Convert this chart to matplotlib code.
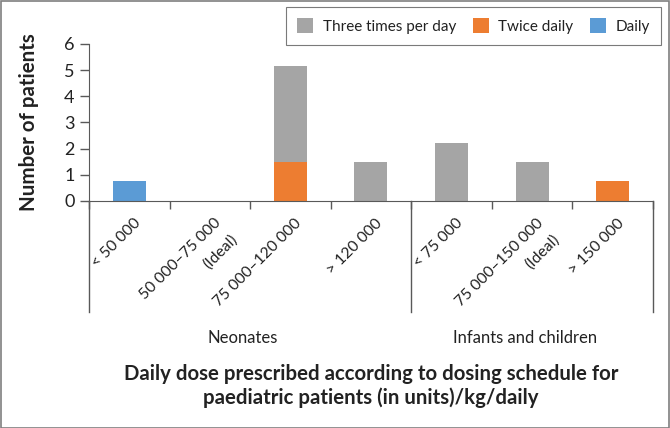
import matplotlib
matplotlib.use("Agg")
import matplotlib.pyplot as plt
from matplotlib.lines import Line2D
from matplotlib.patches import Rectangle
import matplotlib.transforms as mtransforms
import numpy as np

plt.rcParams['font.family'] = ['Lato', 'DejaVu Sans']

categories = ["< 50 000", "50 000\u201375 000\n(Ideal)", "75 000\u2013120 000", "> 120 000",
              "< 75 000", "75 000\u2013150 000\n(Ideal)", "> 150 000"]
groups = ["Neonates", "Infants and children"]
group_sizes = [4, 3]
daily = [0.75, 0, 0, 0, 0, 0, 0]
twice = [0, 0, 1.5, 0, 0, 0, 0.75]
three = [0, 0, 3.67, 1.5, 2.22, 1.5, 0]
series_names = ["Three times per day", "Twice daily", "Daily"]
yticks = [0, 1, 2, 3, 4, 5, 6]

c_gray = "#A5A5A5"
c_orange = "#ED7D31"
c_blue = "#5B9BD5"
axis_col = "#595959"
text_col = "#222222"

fig = plt.figure(figsize=(6.7, 4.28), dpi=100)
ax = fig.add_axes([0.1328, 0.5304, 0.8418, 0.3668])

x = np.arange(len(categories))
w = 0.41
base = np.array(daily) + np.array(twice)
b_daily = ax.bar(x, daily, w, color=c_blue, label=series_names[2])
b_twice = ax.bar(x, twice, w, bottom=daily, color=c_orange, label=series_names[1])
b_three = ax.bar(x, three, w, bottom=base, color=c_gray, label=series_names[0])

ax.set_xlim(-0.5, len(categories) - 0.5)
ax.set_ylim(0, 6)
ax.set_yticks(yticks)
ax.tick_params(axis='y', labelsize=13, colors=axis_col, labelcolor=text_col, length=6.5, width=1, pad=4)
for s in ['top', 'right']:
    ax.spines[s].set_visible(False)
ax.spines['left'].set_color(axis_col)
ax.spines['bottom'].set_color(axis_col)

ax.set_xticks(x)
ax.set_xticklabels([])
ax.tick_params(axis='x', which='major', length=0)
ax.set_xticks(np.arange(len(categories) + 1) - 0.5, minor=True)
ax.tick_params(axis='x', which='minor', length=6, width=1, colors=axis_col)

# rotated category labels
blend = mtransforms.blended_transform_factory(ax.transData, ax.transAxes)
off = mtransforms.ScaledTranslation(4 / 100, -15 / 100, fig.dpi_scale_trans)
for xi, lab in zip(x, categories):
    ax.text(xi, 0, lab, transform=blend + off, rotation=45, rotation_mode='anchor',
            ha='right', va='top', multialignment='right', fontsize=11.3, color=text_col,
            linespacing=1.75)

# group separators extending below axis
ybot = -0.707
bounds = np.concatenate([[0], np.cumsum(group_sizes)]) - 0.5
for bx in bounds:
    ax.add_line(Line2D([bx, bx], [0, ybot], transform=blend, color=axis_col, lw=1, clip_on=False))
goff = mtransforms.ScaledTranslation(-7 / 100, 0, fig.dpi_scale_trans)
for i, g in enumerate(groups):
    cx = (bounds[i] + bounds[i + 1]) / 2
    ax.text(cx, -0.873, g, transform=blend + goff, ha='center', va='center', fontsize=12, color=text_col)

ax.set_ylabel("Number of patients", fontsize=14.8, fontweight='bold', color=text_col, labelpad=18)
fig.text(0.554, 0.098, "Daily dose prescribed according to dosing schedule for\npaediatric patients (in units)/kg/daily",
         ha='center', va='center', fontsize=14.7, fontweight='bold', color=text_col, linespacing=1.25)

leg = ax.legend(handles=[b_three, b_twice, b_daily], loc='upper right', bbox_to_anchor=(0.9866, 0.9836),
                bbox_transform=fig.transFigure, ncol=3, frameon=True, fancybox=False, fontsize=11,
                handlelength=1.05, handleheight=1.05, handletextpad=0.6, columnspacing=1.1,
                borderpad=0.75, borderaxespad=0, labelcolor=text_col)
leg.get_frame().set_edgecolor(axis_col)
leg.get_frame().set_linewidth(0.8)

fig.add_artist(Rectangle((0.001, 0.001), 0.997, 0.997, transform=fig.transFigure, fill=False,
                         edgecolor="#7f7f7f", lw=1.2))

fig.savefig("out.png", dpi=100)
